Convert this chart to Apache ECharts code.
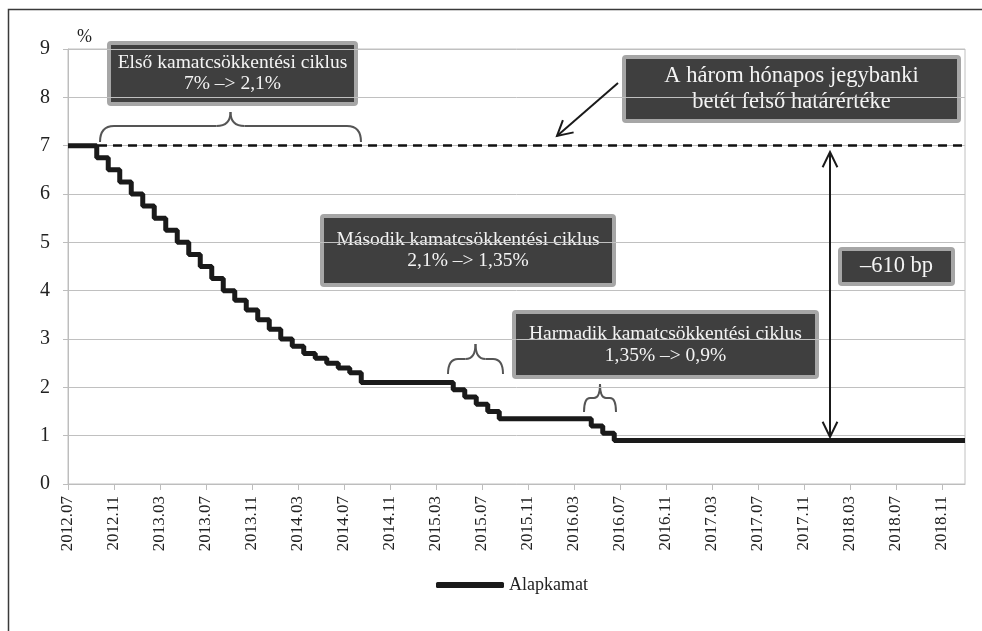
<!DOCTYPE html>
<html>
<head>
<meta charset="utf-8">
<script src="https://cdn.jsdelivr.net/npm/echarts@6/dist/echarts.min.js"></script>
<style>
  html, body { margin: 0; padding: 0; background: #fff; }
  #chart { width: 982px; height: 631px; }
</style>
</head>
<body>
<div id="chart"></div>
<script>
// hónapok az x tengelyen (2012.07 - 2019.01)
var honapok = [
  "2012.07", "2012.08", "2012.09", "2012.10", "2012.11", "2012.12",
  "2013.01", "2013.02", "2013.03", "2013.04", "2013.05", "2013.06",
  "2013.07", "2013.08", "2013.09", "2013.10", "2013.11", "2013.12",
  "2014.01", "2014.02", "2014.03", "2014.04", "2014.05", "2014.06",
  "2014.07", "2014.08", "2014.09", "2014.10", "2014.11", "2014.12",
  "2015.01", "2015.02", "2015.03", "2015.04", "2015.05", "2015.06",
  "2015.07", "2015.08", "2015.09", "2015.10", "2015.11", "2015.12",
  "2016.01", "2016.02", "2016.03", "2016.04", "2016.05", "2016.06",
  "2016.07", "2016.08", "2016.09", "2016.10", "2016.11", "2016.12",
  "2017.01", "2017.02", "2017.03", "2017.04", "2017.05", "2017.06",
  "2017.07", "2017.08", "2017.09", "2017.10", "2017.11", "2017.12",
  "2018.01", "2018.02", "2018.03", "2018.04", "2018.05", "2018.06",
  "2018.07", "2018.08", "2018.09", "2018.10", "2018.11", "2018.12",
  "2019.01"
];
// alapkamat, %
var alapkamat = [
  7, 7, 7, 6.75, 6.5, 6.25,
  6, 5.75, 5.5, 5.25, 5, 4.75,
  4.5, 4.25, 4, 3.8, 3.6, 3.4,
  3.2, 3, 2.85, 2.7, 2.6, 2.5,
  2.4, 2.3, 2.1, 2.1, 2.1, 2.1,
  2.1, 2.1, 2.1, 2.1, 1.95, 1.8,
  1.65, 1.5, 1.35, 1.35, 1.35, 1.35,
  1.35, 1.35, 1.35, 1.35, 1.2, 1.05,
  0.9, 0.9, 0.9, 0.9, 0.9, 0.9,
  0.9, 0.9, 0.9, 0.9, 0.9, 0.9,
  0.9, 0.9, 0.9, 0.9, 0.9, 0.9,
  0.9, 0.9, 0.9, 0.9, 0.9, 0.9,
  0.9, 0.9, 0.9, 0.9, 0.9, 0.9,
  0.9
];
// a három hónapos jegybanki betét felső határértéke
var betetFelsoHatar = 7;
var yMin = 0, yMax = 9, yStep = 1;

var FONT = '"Liberation Serif", "DejaVu Serif", serif';

// nyílhegy (nyitott V) a (x2,y2) pontban
function nyilhegy(x1, y1, x2, y2, len, half) {
  var a = Math.atan2(y2 - y1, x2 - x1);
  return {
    type: "polyline",
    shape: {
      points: [
        [x2 - len * Math.cos(a - half), y2 - len * Math.sin(a - half)],
        [x2, y2],
        [x2 - len * Math.cos(a + half), y2 - len * Math.sin(a + half)],
      ],
    },
    style: { stroke: "#1a1a1a", lineWidth: 2, fill: null },
    z: 100,
  };
}

// kapcsos zárójel (felfelé mutató csúccsal), görbékből és szakaszokból
function zarojel(x1, x2, yAlap, yKozep, yCsucs, r) {
  var xm = (x1 + x2) / 2;
  var st = { stroke: "#555", lineWidth: 2, fill: null };
  function gorbe(ax, ay, cx, cy, bx, by) {
    return {
      type: "bezierCurve",
      shape: { x1: ax, y1: ay, cpx1: cx, cpy1: cy, x2: bx, y2: by },
      style: st,
    };
  }
  function szakasz(ax, ay, bx, by) {
    return { type: "line", shape: { x1: ax, y1: ay, x2: bx, y2: by }, style: st };
  }
  return {
    type: "group",
    z: 100,
    children: [
      gorbe(x1, yAlap, x1, yKozep, x1 + r, yKozep),
      szakasz(x1 + r, yKozep, xm - r, yKozep),
      gorbe(xm - r, yKozep, xm, yKozep, xm, yCsucs),
      gorbe(xm, yCsucs, xm, yKozep, xm + r, yKozep),
      szakasz(xm + r, yKozep, x2 - r, yKozep),
      gorbe(x2 - r, yKozep, x2, yKozep, x2, yAlap),
    ],
  };
}

// szövegdoboz
function doboz(l, t, r, b, szoveg, meret, sor) {
  return {
    type: "group",
    z: 100,
    children: [
      {
        type: "rect",
        shape: { x: l + 2, y: t + 2, width: r - l - 4, height: b - t - 4, r: 2 },
        style: { fill: "#3f3f3f", stroke: "#a6a6a6", lineWidth: 4 },
      },
      {
        type: "text",
        style: {
          text: szoveg,
          x: (l + r) / 2,
          y: (t + b) / 2,
          align: "center",
          verticalAlign: "middle",
          fill: "#f4f4f4",
          font: meret + "px " + FONT,
          lineHeight: sor,
        },
      },
    ],
  };
}

var chart = echarts.init(document.getElementById("chart"));

var grafika = [
  // külső keret
  {
    type: "rect",
    shape: { x: 8.5, y: 9.5, width: 990, height: 640 },
    style: { fill: null, stroke: "#3a3a3a", lineWidth: 1.5 },
  },
  {
    type: "text",
    style: { text: "%", x: 77, y: 28, font: "18px " + FONT, fill: "#222" },
  },
  doboz(107, 41, 358, 106, "Első kamatcsökkentési ciklus\n7% –> 2,1%", 19.5, 21),
  doboz(622, 55, 961, 123, "A három hónapos jegybanki\nbetét felső határértéke", 22.5, 26),
  doboz(320, 214, 616, 287, "Második kamatcsökkentési ciklus\n2,1% –> 1,35%", 19.5, 21),
  doboz(512, 310, 819, 379, "Harmadik kamatcsökkentési ciklus\n1,35% –> 0,9%", 19.5, 22),
  doboz(838, 247, 955, 286, "–610 bp", 22.5, 24),
  zarojel(100, 361, 142, 126, 112, 14),
  zarojel(448, 503, 374, 359, 344, 10),
  zarojel(584, 616, 412, 398, 384, 6),
  // nyíl a szaggatott vonalra
  {
    type: "line",
    shape: { x1: 618, y1: 83, x2: 557, y2: 136 },
    style: { stroke: "#1a1a1a", lineWidth: 2 },
    z: 100,
  },
  nyilhegy(618, 83, 557, 136, 17, 0.5),
  // kétirányú függőleges nyíl
  {
    type: "line",
    shape: { x1: 830, y1: 152, x2: 830, y2: 437 },
    style: { stroke: "#1a1a1a", lineWidth: 2 },
    z: 100,
  },
  nyilhegy(830, 437, 830, 152, 17, 0.45),
  nyilhegy(830, 152, 830, 437, 17, 0.45),
];

var option = {
  animation: false,
  backgroundColor: "#fff",
  textStyle: { fontFamily: FONT },
  grid: {
    left: 68,
    right: 17,
    top: 49,
    bottom: 147,
    show: true,
    borderColor: "#c0c0c0",
    borderWidth: 1,
  },
  legend: {
    left: 431,
    top: 571,
    icon: "roundRect",
    itemWidth: 68,
    itemHeight: 6,
    itemGap: 10,
    textStyle: { fontFamily: FONT, fontSize: 18, color: "#222" },
    data: ["Alapkamat"],
  },
  xAxis: {
    type: "category",
    data: honapok,
    boundaryGap: false,
    axisLine: { lineStyle: { color: "#bdbdbd", width: 1 } },
    axisTick: { interval: 3, length: 6, lineStyle: { color: "#bdbdbd" } },
    axisLabel: {
      interval: 3,
      rotate: 90,
      margin: 12,
      color: "#222",
      fontFamily: FONT,
      fontSize: 17,
    },
    splitLine: { show: false },
  },
  yAxis: {
    type: "value",
    min: yMin,
    max: yMax,
    interval: yStep,
    axisLine: { show: true, lineStyle: { color: "#bdbdbd" } },
    axisTick: { show: true, length: 5, lineStyle: { color: "#bdbdbd" } },
    axisLabel: { margin: 18, color: "#222", fontFamily: FONT, fontSize: 20 },
    splitLine: { lineStyle: { color: "#c0c0c0", width: 1 } },
  },
  series: [
    {
      name: "Alapkamat",
      type: "line",
      step: "middle",
      data: alapkamat,
      symbol: "none",
      z: 5,
      lineStyle: { color: "#1a1a1a", width: 5 },
      itemStyle: { color: "#1a1a1a" },
      markLine: {
        silent: true,
        symbol: "none",
        label: { show: false },
        lineStyle: { color: "#111", width: 2.5, type: [9, 6] },
        data: [{ yAxis: betetFelsoHatar }],
      },
    },
  ],
  graphic: grafika,
};

chart.setOption(option);
</script>
</body>
</html>
